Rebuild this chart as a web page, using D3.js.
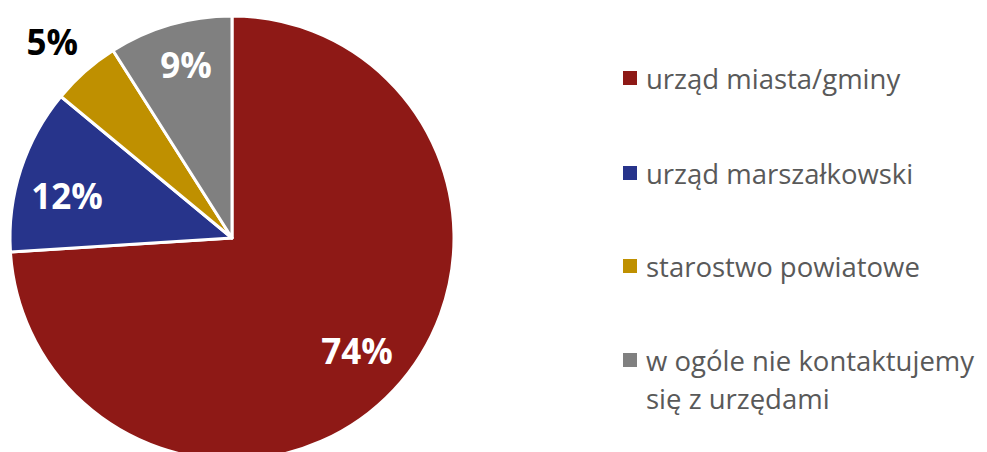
<!DOCTYPE html>
<html>
<head>
<meta charset="utf-8">
<script src="https://cdn.jsdelivr.net/npm/d3@7"></script>
<style>
  body { margin: 0; background: #fff; }
  svg { display: block; font-family: "Open Sans", "Noto Sans", sans-serif; }
</style>
</head>
<body>
<svg width="987" height="452"></svg>
<script>
const categories = ["urząd miasta/gminy", "urząd marszałkowski", "starostwo powiatowe", "w ogóle nie kontaktujemy się z urzędami"];
const values = [74, 12, 5, 9];
const labels = ["74%", "12%", "5%", "9%"];
const colors = ["#8e1916", "#27348b", "#bf9000", "#808080"];
const legendLines = [["urząd miasta/gminy"], ["urząd marszałkowski"], ["starostwo powiatowe"], ["w ogóle nie kontaktujemy", "się z urzędami"]];

const svg = d3.select("svg");
const cx = 232, cy = 238, r = 222;

let data = categories.map((c, i) => ({ label: c, value: values[i] }));
let pie = d3.pie().value(d => d.value).sort(null);
let arcGen = d3.arc().innerRadius(0).outerRadius(r);
let arcData = pie(data);

let g = svg.append("g").attr("transform", `translate(${cx},${cy})`);
g.selectAll("path")
  .data(arcData)
  .join("path")
  .attr("d", arcGen)
  .attr("fill", d => colors[d.index])
  .attr("stroke", "#fff")
  .attr("stroke-width", 3)
  .attr("stroke-linejoin", "round");

// label placement: radius fraction + small angle nudge (deg); 5% sits outside in black
const labelR = [0.756, 0.768, 1.2, 0.81];
const labelNudge = [-1.3, -3.4, -1, 1.4];
arcData.forEach((d, i) => {
  let a = (d.startAngle + d.endAngle) / 2 + labelNudge[i] * Math.PI / 180;
  let rr = r * labelR[i];
  g.append("text")
    .attr("x", Math.sin(a) * rr).attr("y", -Math.cos(a) * rr)
    .attr("text-anchor", "middle")
    .attr("dominant-baseline", "central")
    .attr("font-size", 35)
    .attr("font-weight", "bold")
    .attr("fill", i === 2 ? "#000" : "#fff")
    .text(labels[i]);
});

// legend
const rowY = [78, 173, 266, 360];
let legend = svg.append("g");
legendLines.forEach((lines, i) => {
  legend.append("rect")
    .attr("x", 623).attr("y", rowY[i] - 7)
    .attr("width", 14).attr("height", 14)
    .attr("fill", colors[i]);
  lines.forEach((ln, j) => {
    legend.append("text")
      .attr("x", 646).attr("y", rowY[i] + j * 38)
      .attr("dominant-baseline", "central")
      .attr("font-size", 27.5)
      .attr("fill", "#595959")
      .text(ln);
  });
});
</script>
</body>
</html>
